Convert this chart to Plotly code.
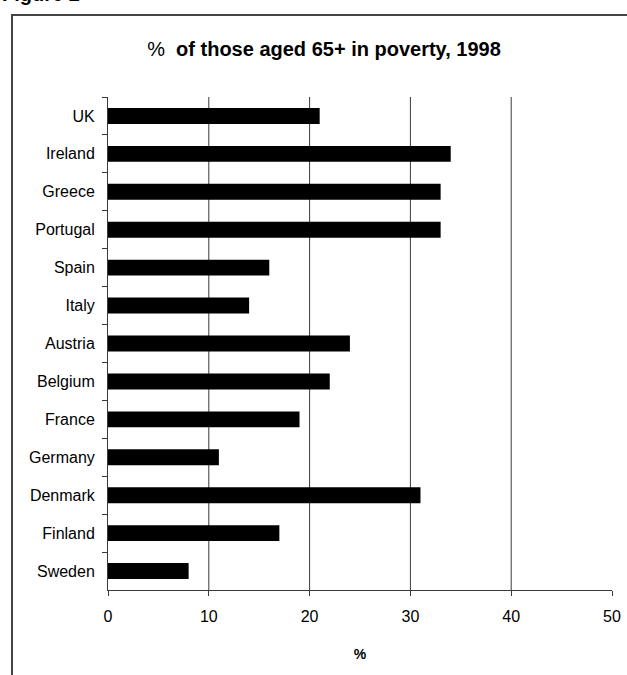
import plotly.graph_objects as go

# Share of people aged 65+ below the poverty line, 1998 (%)
countries = ["UK", "Ireland", "Greece", "Portugal", "Spain", "Italy", "Austria",
             "Belgium", "France", "Germany", "Denmark", "Finland", "Sweden"]
poverty_pct = [21, 34, 33, 33, 16, 14, 24, 22, 19, 11, 31, 17, 8]
x_ticks = [0, 10, 20, 30, 40, 50]
grid_values = [10, 20, 30, 40]

W, H = 627, 675
L, R, T, B = 108, 15, 97, 85
pw, ph = W - L - R, H - T - B


def px_to_paper_x(px):
    return (px - L) / pw


def px_to_paper_y(py):
    return (H - B - py) / ph


LINE = "#3a3a3a"
FONT = "Liberation Sans, Arial, sans-serif"

fig = go.Figure(
    go.Bar(
        x=poverty_pct,
        y=countries,
        orientation="h",
        width=0.42,
        marker=dict(color="black", line=dict(width=0)),
        hoverinfo="x+y",
    )
)

shapes = []
# vertical gridlines at the inner ticks
for v in grid_values:
    shapes.append(dict(type="line", xref="x", yref="paper", x0=v, x1=v, y0=0, y1=1,
                       line=dict(color=LINE, width=1), layer="below"))
# outer frame round the chart
shapes.append(dict(type="rect", xref="paper", yref="paper",
                   x0=px_to_paper_x(12), x1=px_to_paper_x(700),
                   y0=px_to_paper_y(760), y1=px_to_paper_y(15),
                   line=dict(color="#444444", width=2), fillcolor="rgba(0,0,0,0)"))

fig.update_layout(
    width=W,
    height=H,
    autosize=False,
    margin=dict(l=L, r=R, t=T, b=B, autoexpand=False),
    paper_bgcolor="white",
    plot_bgcolor="white",
    showlegend=False,
    font=dict(family=FONT, size=15, color="black"),
    title=dict(
        text="%  <b>of those aged 65+ in poverty, 1998</b>",
        x=324 / W, xanchor="center",
        y=1 - 49 / H, yanchor="middle",
        font=dict(family=FONT, size=20, color="black"),
    ),
    xaxis=dict(
        range=[0, 50],
        tickvals=x_ticks,
        ticks="outside",
        ticklen=5,
        tickcolor=LINE,
        showline=True,
        linecolor=LINE,
        linewidth=1,
        showgrid=False,
        zeroline=False,
        automargin=False,
        tickfont=dict(size=16),
        ticklabelstandoff=7,
        title=dict(text="<b>%</b>", font=dict(size=14), standoff=24),
        fixedrange=True,
    ),
    yaxis=dict(
        categoryorder="array",
        categoryarray=countries,
        autorange="reversed",
        tickson="boundaries",
        ticks="outside",
        ticklen=5,
        tickcolor=LINE,
        showline=True,
        linecolor=LINE,
        linewidth=1,
        showgrid=False,
        zeroline=False,
        automargin=False,
        tickfont=dict(size=16),
        ticklabelstandoff=9,
        fixedrange=True,
    ),
    shapes=shapes,
    annotations=[
        dict(text="<b>Figure 2</b>", xref="paper", yref="paper",
             x=px_to_paper_x(0), xanchor="left",
             y=px_to_paper_y(-6), yanchor="middle",
             showarrow=False, font=dict(family=FONT, size=20, color="black")),
    ],
)

fig.write_html("out.html")
